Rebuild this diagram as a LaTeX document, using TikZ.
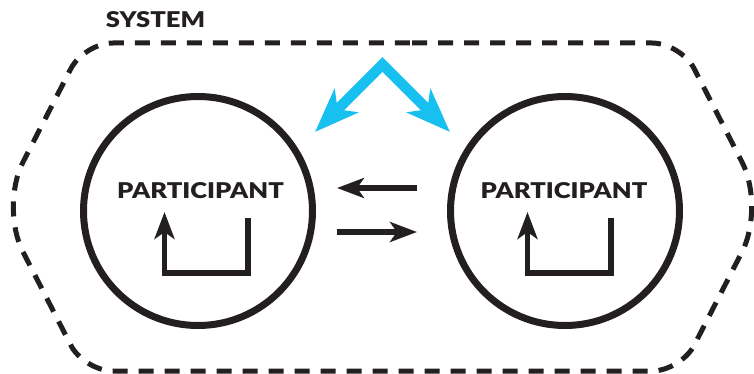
\documentclass[tikz,border=0pt]{standalone}
\usepackage{fontspec}
\setmainfont{Lato}
\newfontfamily\capsfont{Lato Black}[FakeStretch=1.18]
\usetikzlibrary{arrows.meta}
\definecolor{ink}{RGB}{35,31,32}
\definecolor{sky}{RGB}{24,192,240}
\tikzset{
  boundary/.style={draw=ink, line width=5pt, dash pattern=on 15pt off 11pt},
  participant/.style={circle, draw=ink, line width=7pt, minimum size=229pt, inner sep=0pt},
  caps/.style={font=\capsfont\fontsize{21.7}{26}\selectfont, text=ink, inner sep=0pt},
  flow/.style={draw=ink, line width=5.4pt, line join=miter,
    -{Stealth[length=27pt,width=20pt,inset=7pt]}},
  sysflow/.style={draw=sky, line width=10.5pt, line join=miter,
    {Stealth[length=44pt,width=33pt,inset=12pt]}-{Stealth[length=44pt,width=33pt,inset=12pt]}}
}
\begin{document}
\begin{tikzpicture}[x=1pt,y=-1pt]
\useasboundingbox (0,0) rectangle (754,374);

% system boundary
\draw[boundary] (383,43) [rounded corners=29pt] -- (681,43)
  [rounded corners=50pt] -- (765,207)
  [rounded corners=29pt] -- (681,371) -- (84,371)
  [rounded corners=50pt] -- (0,207)
  [rounded corners=29pt] -- (84,43) -- cycle;
\node[caps] (sys) at (155.5,19.5) {SYSTEM};

% participants
\node[participant] (p1) at (198,211) {};
\node[participant] (p2) at (565,211) {};
\node[caps] (t1) at (200.5,190.5) {PARTICIPANT};
\node[caps] (t2) at (564,190.5) {PARTICIPANT};

% self loops
\coordinate (a1) at (248,218);
\coordinate (b1) at (248,273);
\coordinate (c1) at (164.5,273);
\coordinate (d1) at (164.5,212);
\draw[flow] (a1) -- (b1) -- (c1) -- (d1);
\coordinate (a2) at (611,218);
\coordinate (b2) at (611,273);
\coordinate (c2) at (527.5,273);
\coordinate (d2) at (527.5,212);
\draw[flow] (a2) -- (b2) -- (c2) -- (d2);

% exchanges between participants
\coordinate (m1) at (417,188);
\coordinate (m2) at (337,188);
\coordinate (m3) at (337,232);
\coordinate (m4) at (417,232);
\draw[flow] (m1) -- (m2);
\draw[flow] (m3) -- (m4);

% interaction with the system
\coordinate (sL) at (315,132);
\coordinate (sA) at (382.5,64.5);
\coordinate (sR) at (450,132);
\draw[sysflow] (sL) -- (sA) -- (sR);
\end{tikzpicture}
\end{document}
